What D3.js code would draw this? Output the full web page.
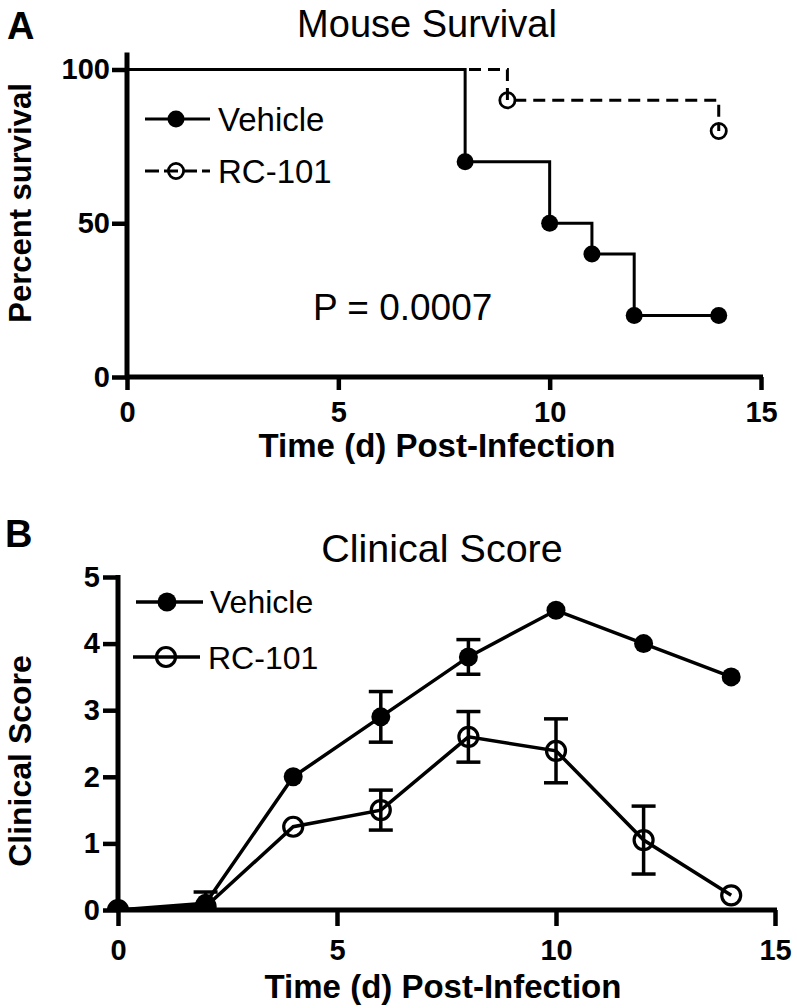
<!DOCTYPE html>
<html><head><meta charset="utf-8">
<script src="https://cdn.jsdelivr.net/npm/d3@7"></script>
<style>
html,body{margin:0;padding:0;background:#fff;}
svg{display:block;font-family:"Liberation Sans",Arial,Helvetica,sans-serif;}
</style></head>
<body>
<script>
// ---- Data ----
const survTimesVehicle = [0, 8, 10, 11, 12, 14];
const survVehicle      = [100, 70, 50, 40, 20, 20];
const survTimesRC      = [0, 9, 14];
const survRC           = [100, 90, 80];
const days       = [0, 2, 4, 6, 8, 10, 12, 14];
const scoreVehicle = [0, 0.1, 2.0, 2.9, 3.8, 4.5, 4.0, 3.5];
const semVehicle   = [0, 0.17, 0, 0.38, 0.26, 0, 0, 0];
const scoreRC      = [0, 0.05, 1.25, 1.5, 2.6, 2.39, 1.05, 0.22];
const semRC        = [0, 0, 0, 0.3, 0.38, 0.48, 0.51, 0];
const xTicks = [0, 5, 10, 15];
const survTicks = [0, 50, 100];
const scoreTicks = [0, 1, 2, 3, 4, 5];
const seriesNames = ["Vehicle", "RC-101"];

const W = 797, H = 1008;
const svg = d3.select("body").append("svg").attr("width", W).attr("height", H);

function styleAxis(g, tw) {
  g.select(".domain").remove();
  g.selectAll(".tick line").attr("stroke", "#000").attr("stroke-width", tw);
  g.selectAll(".tick text").attr("fill", "#000").attr("font-weight", "bold")
    .attr("font-size", 29).attr("font-family", "'Liberation Sans',Arial,sans-serif");
}
const fmt = d3.format("d");

// ================= Panel A =================
{
  const x = d3.scaleLinear().domain([0, 15]).range([127, 761]);
  const y = d3.scaleLinear().domain([0, 100]).range([377, 69.5]);
  const g = svg.append("g");

  g.append("text").attr("x", 7).attr("y", 39).attr("font-size", 38).attr("font-weight", "bold").text("A");
  g.append("text").attr("x", 427).attr("y", 37).attr("text-anchor", "middle").attr("font-size", 38).text("Mouse Survival");

  const ya = g.append("g").attr("transform", `translate(${x(0)},0)`)
    .call(d3.axisLeft(y).tickValues(survTicks).tickFormat(fmt).tickSize(15).tickPadding(2));
  styleAxis(ya, 4.5);
  const xa = g.append("g").attr("transform", `translate(0,${y(0)})`)
    .call(d3.axisBottom(x).tickValues(xTicks).tickFormat(fmt).tickSize(13).tickPadding(11));
  styleAxis(xa, 4.5);
  g.append("line").attr("x1", x(0)).attr("x2", x(0)).attr("y1", y.range()[1] - 17).attr("y2", y(0) + 2)
    .attr("stroke", "#000").attr("stroke-width", 5);
  g.append("line").attr("x1", x(0) - 2).attr("x2", x(15) + 2).attr("y1", y(0)).attr("y2", y(0))
    .attr("stroke", "#000").attr("stroke-width", 5);

  g.append("text").attr("x", 437).attr("y", 457).attr("text-anchor", "middle")
    .attr("font-size", 33).attr("font-weight", "bold").text("Time (d) Post-Infection");
  g.append("text").attr("transform", "translate(31,203) rotate(-90)").attr("text-anchor", "middle")
    .attr("font-size", 31).attr("font-weight", "bold").text("Percent survival");

  const line = d3.line().x(d => x(d[0])).y(d => y(d[1])).curve(d3.curveStepAfter);
  const rcPts = survTimesRC.map((t, i) => [t, survRC[i]]);
  const vPts = survTimesVehicle.map((t, i) => [t, survVehicle[i]]);
  g.append("path").attr("d", line(rcPts)).attr("fill", "none").attr("stroke", "#000")
    .attr("stroke-width", 3).attr("stroke-dasharray", "12,7");
  g.append("path").attr("d", line(vPts)).attr("fill", "none").attr("stroke", "#000").attr("stroke-width", 3);
  g.selectAll(".vdot").data(vPts.slice(1)).enter().append("circle")
    .attr("cx", d => x(d[0])).attr("cy", d => y(d[1])).attr("r", 8.5).attr("fill", "#000");
  g.selectAll(".rdot").data(rcPts.slice(1)).enter().append("circle")
    .attr("cx", d => x(d[0])).attr("cy", d => y(d[1])).attr("r", 7.6)
    .attr("fill", "none").attr("stroke", "#000").attr("stroke-width", 2.8);

  g.append("text").attr("x", 313).attr("y", 320).attr("font-size", 37).text("P = 0.0007");

  // legend
  g.append("line").attr("x1", 145).attr("x2", 210).attr("y1", 119).attr("y2", 119).attr("stroke", "#000").attr("stroke-width", 3);
  g.append("circle").attr("cx", 176).attr("cy", 119).attr("r", 8.5).attr("fill", "#000");
  g.append("text").attr("x", 218).attr("y", 131).attr("font-size", 33).text(seriesNames[0]);
  g.append("line").attr("x1", 145).attr("x2", 210).attr("y1", 171).attr("y2", 171).attr("stroke", "#000")
    .attr("stroke-width", 3).attr("stroke-dasharray", "14,5");
  g.append("circle").attr("cx", 176).attr("cy", 171).attr("r", 7.6).attr("fill", "none").attr("stroke", "#000").attr("stroke-width", 2.8);
  g.append("text").attr("x", 218).attr("y", 183).attr("font-size", 33).text(seriesNames[1]);
}

// ================= Panel B =================
{
  const x = d3.scaleLinear().domain([0, 15]).range([118, 775]);
  const y = d3.scaleLinear().domain([0, 5]).range([910, 577]);
  const g = svg.append("g");

  g.append("text").attr("x", 5).attr("y", 547).attr("font-size", 38).attr("font-weight", "bold").text("B");
  g.append("text").attr("x", 442).attr("y", 562).attr("text-anchor", "middle").attr("font-size", 39.5).text("Clinical Score");

  svg.append("defs").append("clipPath").attr("id", "clipB").append("rect")
    .attr("x", 0).attr("y", 540).attr("width", W).attr("height", y(0) - 540);

  const ya = g.append("g").attr("transform", `translate(${x(0)},0)`)
    .call(d3.axisLeft(y).tickValues(scoreTicks).tickFormat(fmt).tickSize(15).tickPadding(3));
  styleAxis(ya, 4.5);
  const xa = g.append("g").attr("transform", `translate(0,${y(0)})`)
    .call(d3.axisBottom(x).tickValues(xTicks).tickFormat(fmt).tickSize(16).tickPadding(13));
  styleAxis(xa, 4.5);
  g.append("line").attr("x1", x(0)).attr("x2", x(0)).attr("y1", y(5) - 2).attr("y2", y(0) + 2)
    .attr("stroke", "#000").attr("stroke-width", 5);
  g.append("line").attr("x1", x(0) - 2).attr("x2", x(15) + 2).attr("y1", y(0)).attr("y2", y(0))
    .attr("stroke", "#000").attr("stroke-width", 5);

  g.append("text").attr("x", 443).attr("y", 998).attr("text-anchor", "middle")
    .attr("font-size", 33).attr("font-weight", "bold").text("Time (d) Post-Infection");
  g.append("text").attr("transform", "translate(31,761) rotate(-90)").attr("text-anchor", "middle")
    .attr("font-size", 32).attr("font-weight", "bold").text("Clinical Score");

  const plot = g.append("g").attr("clip-path", "url(#clipB)");
  const line = d3.line().x(d => x(d.t)).y(d => y(d.v));
  const series = [
    { vals: scoreVehicle, sem: semVehicle, filled: true },
    { vals: scoreRC, sem: semRC, filled: false }
  ];
  series.forEach(s => {
    const pts = days.map((t, i) => ({ t, v: s.vals[i], e: s.sem[i] }));
    plot.append("path").attr("d", line(pts)).attr("fill", "none").attr("stroke", "#000").attr("stroke-width", 3.5);
    pts.filter(p => p.e > 0).forEach(p => {
      const eg = plot.append("g").attr("stroke", "#000").attr("stroke-width", 3.5);
      eg.append("line").attr("x1", x(p.t)).attr("x2", x(p.t)).attr("y1", y(p.v - p.e)).attr("y2", y(p.v + p.e));
      [p.v - p.e, p.v + p.e].forEach(v =>
        eg.append("line").attr("x1", x(p.t) - 12).attr("x2", x(p.t) + 12).attr("y1", y(v)).attr("y2", y(v)));
    });
    plot.selectAll(null).data(pts).enter().append("circle")
      .attr("cx", d => x(d.t)).attr("cy", d => y(d.v))
      .attr("r", 9.5)
      .attr("fill", s.filled ? "#000" : "none")
      .attr("stroke", s.filled ? "none" : "#000").attr("stroke-width", 3.2);
  });

  // legend
  g.append("line").attr("x1", 136).attr("x2", 203).attr("y1", 602).attr("y2", 602).attr("stroke", "#000").attr("stroke-width", 3.5);
  g.append("circle").attr("cx", 167).attr("cy", 602).attr("r", 9.5).attr("fill", "#000");
  g.append("text").attr("x", 210).attr("y", 613).attr("font-size", 32).text(seriesNames[0]);
  g.append("line").attr("x1", 133).attr("x2", 200).attr("y1", 657).attr("y2", 657).attr("stroke", "#000").attr("stroke-width", 3.5);
  g.append("circle").attr("cx", 166).attr("cy", 657).attr("r", 9.5).attr("fill", "none").attr("stroke", "#000").attr("stroke-width", 3.2);
  g.append("text").attr("x", 208).attr("y", 669).attr("font-size", 32).text(seriesNames[1]);
}
</script>
</body></html>
